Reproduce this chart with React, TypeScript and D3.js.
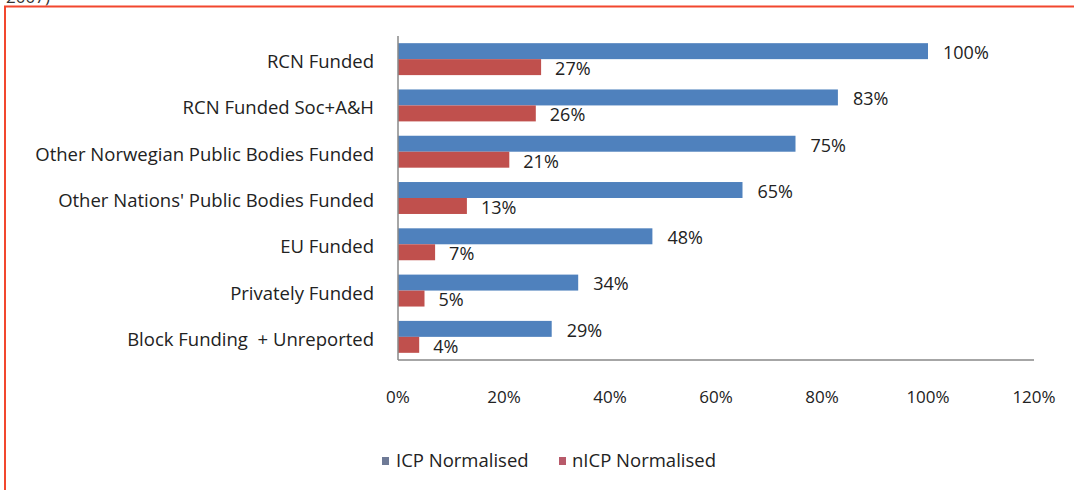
import React from "react";
import * as d3 from "d3";

const categories = [
  "RCN Funded",
  "RCN Funded Soc+A&H",
  "Other Norwegian Public Bodies Funded",
  "Other Nations' Public Bodies Funded",
  "EU Funded",
  "Privately Funded",
  "Block Funding  + Unreported",
];
const icpValues = [100, 83, 75, 65, 48, 34, 29];
const nicpValues = [27, 26, 21, 13, 7, 5, 4];
const xTicks = [0, 20, 40, 60, 80, 100, 120];
const seriesNames = ["ICP Normalised", "nICP Normalised"];

const W = 1074;
const H = 490;
const FONT = "'Open Sans', 'Noto Sans', sans-serif";
const BLUE = "#4F81BD";
const RED = "#C0504D";

export default function App() {
  const left = 398;
  const right = 1034;
  const top = 36;
  const bottom = 360;
  const x = d3.scaleLinear().domain([0, 120]).range([left, right]);
  const y = d3.scaleBand<string>().domain(categories).range([top, bottom]).paddingInner(0.31).paddingOuter(0.155);
  const bw = y.bandwidth() / 2;

  return (
    <svg width={W} height={H} style={{ position: "absolute", left: 0, top: 0, background: "#fff" }}>
      <rect x={0} y={0} width={W} height={H} fill="#fff" />
      <text x={6} y={3} fontFamily={FONT} fontSize={17} fill="#333">2007)</text>
      <rect x={5} y={6.5} width={W + 20} height={H + 20} fill="none" stroke="#F2472E" strokeWidth={2} />

      {categories.map((c, i) => {
        const y0 = y(c)!;
        return (
          <g key={c}>
            <rect x={x(0)} y={y0} width={x(icpValues[i]) - x(0)} height={bw} fill={BLUE} />
            <rect x={x(0)} y={y0 + bw} width={x(nicpValues[i]) - x(0)} height={bw} fill={RED} />
            <text x={x(icpValues[i]) + 15} y={y0 + bw / 2 + 3} dominantBaseline="middle" fontFamily={FONT} fontSize={18} fill="#222">
              {icpValues[i]}%
            </text>
            <text x={x(nicpValues[i]) + 14} y={y0 + bw * 1.5 + 3} dominantBaseline="middle" fontFamily={FONT} fontSize={18} fill="#222">
              {nicpValues[i]}%
            </text>
            <text x={374} y={y0 + bw + 4} textAnchor="end" dominantBaseline="middle" fontFamily={FONT} fontSize={18.5} fill="#222" style={{ whiteSpace: "pre" }}>
              {c}
            </text>
          </g>
        );
      })}

      <line x1={x(0)} x2={x(0)} y1={top} y2={bottom} stroke="#888" strokeWidth={1.5} />
      <line x1={x(0)} x2={x(120)} y1={bottom} y2={bottom} stroke="#888" strokeWidth={1.5} />

      {xTicks.map((t) => (
        <text key={t} x={x(t)} y={398} textAnchor="middle" dominantBaseline="middle" fontFamily={FONT} fontSize={17} fill="#222">
          {t}%
        </text>
      ))}

      <rect x={382} y={457} width={7} height={8} fill="#6E7A96" />
      <text x={396} y={462} dominantBaseline="middle" fontFamily={FONT} fontSize={18.5} fill="#222">{seriesNames[0]}</text>
      <rect x={559} y={457} width={7} height={8} fill="#B85A6A" />
      <text x={572} y={462} dominantBaseline="middle" fontFamily={FONT} fontSize={18.5} fill="#222">{seriesNames[1]}</text>
    </svg>
  );
}
